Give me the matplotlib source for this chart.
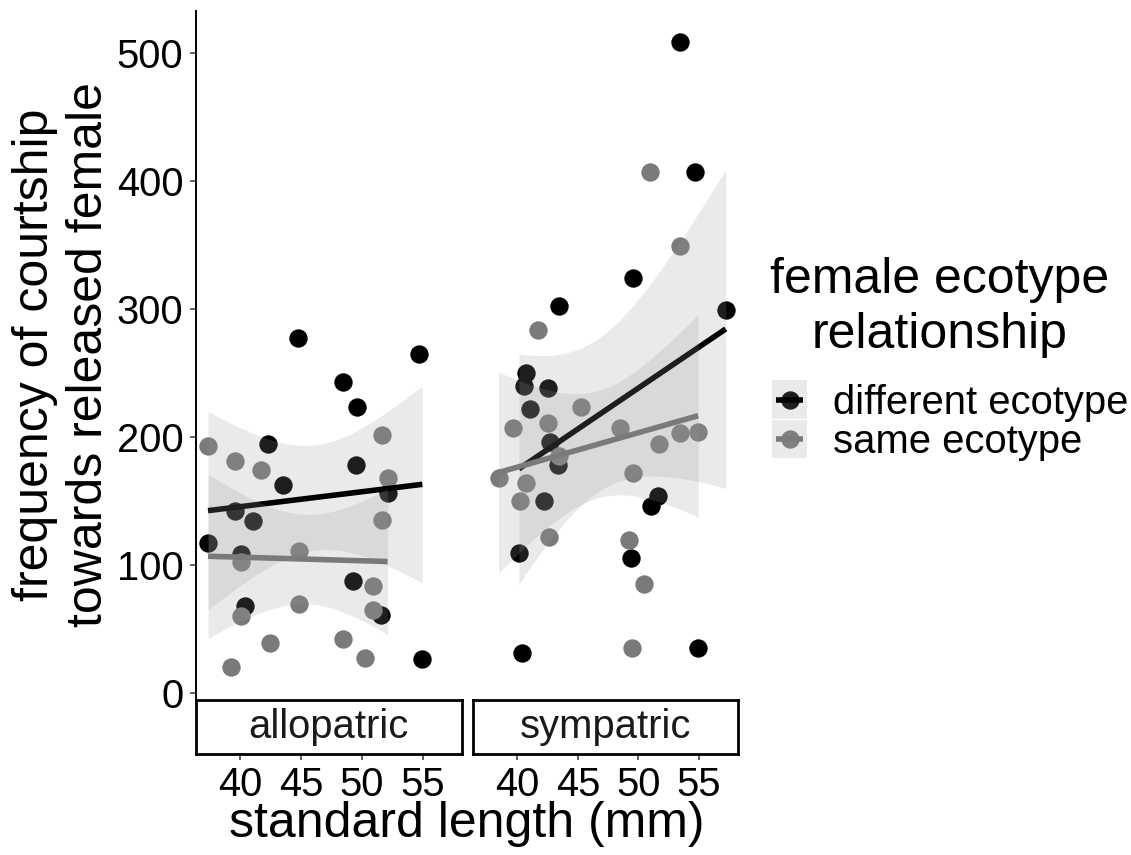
import numpy as np
import matplotlib
matplotlib.use("Agg")
import matplotlib.pyplot as plt
from matplotlib.patches import Rectangle

plt.rcParams['font.family'] = ['Liberation Sans', 'DejaVu Sans']

# -----------------------------
# Data: standard length (mm) vs courtship frequency
# -----------------------------
allo_diff_len = [44.75, 54.71, 48.45, 49.57, 42.28, 49.52, 43.48, 52.12,
                 39.53, 41.05, 37.34, 40.08, 49.24, 40.41, 51.55, 54.98]
allo_diff_freq = [277, 265, 243, 223, 194, 178, 162, 156,
                  142, 134, 117, 108, 87, 68, 61, 26]

allo_same_len = [37.34, 39.53, 41.70, 51.69, 52.12, 51.69, 44.80, 40.08,
                 50.95, 50.95, 44.80, 40.08, 42.44, 48.48, 50.26, 39.26]
allo_same_freq = [193, 181, 174, 201, 168, 135, 111, 102,
                  83, 65, 69, 60, 39, 42, 27, 20]

sym_diff_len = [53.48, 54.68, 49.59, 43.48, 57.23, 40.69, 40.58, 42.50, 41.04,
                42.69, 43.37, 51.64, 51.04, 42.17, 40.12, 49.40, 40.39, 54.95]
sym_diff_freq = [508, 407, 324, 302, 299, 250, 240, 238, 222,
                 196, 178, 154, 146, 150, 109, 105, 31, 35]

sym_same_len = [50.96, 53.48, 41.70, 45.29, 39.67, 42.50, 48.46, 53.48, 54.95, 51.67,
                43.45, 38.44, 49.53, 40.69, 40.25, 42.60, 49.26, 50.44, 49.51]
sym_same_freq = [407, 349, 283, 223, 207, 211, 207, 203, 204, 194,
                 185, 168, 172, 164, 150, 122, 119, 85, 35]

panel_names = ["allopatric", "sympatric"]
group_names = ["different ecotype", "same ecotype"]
group_colors = ["#000000", "#7a7a7a"]

panels = {
    "allopatric": [(allo_diff_len, allo_diff_freq), (allo_same_len, allo_same_freq)],
    "sympatric": [(sym_diff_len, sym_diff_freq), (sym_same_len, sym_same_freq)],
}

x_ticks = [40, 45, 50, 55]
y_ticks = [0, 100, 200, 300, 400, 500]

# 97.5% t quantiles by residual degrees of freedom
T95 = {14: 2.1448, 15: 2.1314, 16: 2.1199, 17: 2.1098, 18: 2.1009}


def lm_band(x, y, n_grid=80):
    x = np.asarray(x, float)
    y = np.asarray(y, float)
    n = len(x)
    slope, icpt = np.polyfit(x, y, 1)
    resid = y - (icpt + slope * x)
    s = np.sqrt(np.sum(resid ** 2) / (n - 2))
    xg = np.linspace(x.min(), x.max(), n_grid)
    se = s * np.sqrt(1 / n + (xg - x.mean()) ** 2 / np.sum((x - x.mean()) ** 2))
    fit = icpt + slope * xg
    t = T95[n - 2]
    return xg, fit, fit - t * se, fit + t * se


# -----------------------------
# Layout (pixel boxes -> figure fractions)
# -----------------------------
W, H = 1131, 855
fig = plt.figure(figsize=(W / 100, H / 100), dpi=100)


def box(x0, y0, x1, y1):
    return [x0 / W, 1 - y1 / H, (x1 - x0) / W, (y1 - y0) / H]


panel_x = [(196, 461.7), (473.3, 737.7)]
xlim = (36.35, 58.22)
ylim = (-4.6, 532.2)

SMALL = 28.8
BIG = 36
ribbon_fill = "#999999"

for i, name in enumerate(panel_names):
    x0, x1 = panel_x[i]
    ax = fig.add_axes(box(x0, 11.5, x1, 698.6))
    ax.set_xlim(xlim)
    ax.set_ylim(ylim)

    # points first, smooths drawn on top
    for (lx, ly), col in zip(panels[name], group_colors):
        ax.scatter(lx, ly, s=175, color=col, linewidths=0, zorder=2)

    z = 3
    for (lx, ly), col in zip(panels[name], group_colors):
        xg, fit, lo, hi = lm_band(lx, ly)
        ax.fill_between(xg, lo, hi, color=ribbon_fill, alpha=0.2, linewidth=0, zorder=z)
        ax.plot(xg, fit, color=col, lw=4, solid_capstyle="butt", zorder=z + 1)
        z += 2

    for sp in ["top", "right", "bottom"]:
        ax.spines[sp].set_visible(False)
    ax.set_xticks([])
    if i == 0:
        ax.spines["left"].set_linewidth(1.4)
        ax.set_yticks(y_ticks)
        ax.tick_params(axis="y", length=4, width=1.1, color="#333333",
                       labelsize=SMALL, pad=5)
    else:
        ax.spines["left"].set_visible(False)
        ax.set_yticks([])

    # facet strip below the panel, carrying the x ticks
    st = fig.add_axes(box(x0, 700, x1, 754))
    st.set_xlim(xlim)
    st.set_ylim(0, 1)
    st.set_yticks([])
    st.set_xticks(x_ticks)
    st.tick_params(axis="x", length=4, width=1.1, color="#333333",
                   labelsize=SMALL, pad=4.5)
    for sp in st.spines.values():
        sp.set_linewidth(2)
        sp.set_color("black")
    st.text(0.5, 0.5, name, transform=st.transAxes, ha="center", va="center",
            fontsize=SMALL, color="#1a1a1a")

# axis titles
fig.text(62 / W, 1 - 355 / H, "frequency of courtship\ntowards released female",
         rotation=90, ha="center", va="center", fontsize=BIG)
fig.text(467 / W, 1 - 836.7 / H, "standard length (mm)",
         ha="center", va="baseline", fontsize=BIG)

# -----------------------------
# Legend
# -----------------------------
fig.text(940 / W, 1 - 293.3 / H, "female ecotype", ha="center", va="baseline", fontsize=BIG)
fig.text(940 / W, 1 - 348.3 / H, "relationship", ha="center", va="baseline", fontsize=BIG)

lax = fig.add_axes(box(772.3, 380, 806.7, 458.3))
lax.set_xlim(0, 1)
lax.set_ylim(0, 2)
lax.axis("off")
for k, (label, col) in enumerate(zip(group_names, group_colors)):
    yc = 1.5 - k
    lax.scatter([0.5], [yc], s=175, color=col, linewidths=0, zorder=2)
    lax.add_patch(Rectangle((0, yc - 0.5), 1, 1, facecolor=ribbon_fill, alpha=0.2,
                            edgecolor="none", zorder=3))
    lax.plot([0.1, 0.9], [yc, yc], color=col, lw=4, solid_capstyle="butt", zorder=4)
    fig.text(833 / W, 1 - (399.5 + 39.2 * k + 14) / H, label,
             ha="left", va="baseline", fontsize=SMALL)
lax.axhline(1, color="white", lw=1, zorder=5)

fig.savefig("out.png", dpi=100)
